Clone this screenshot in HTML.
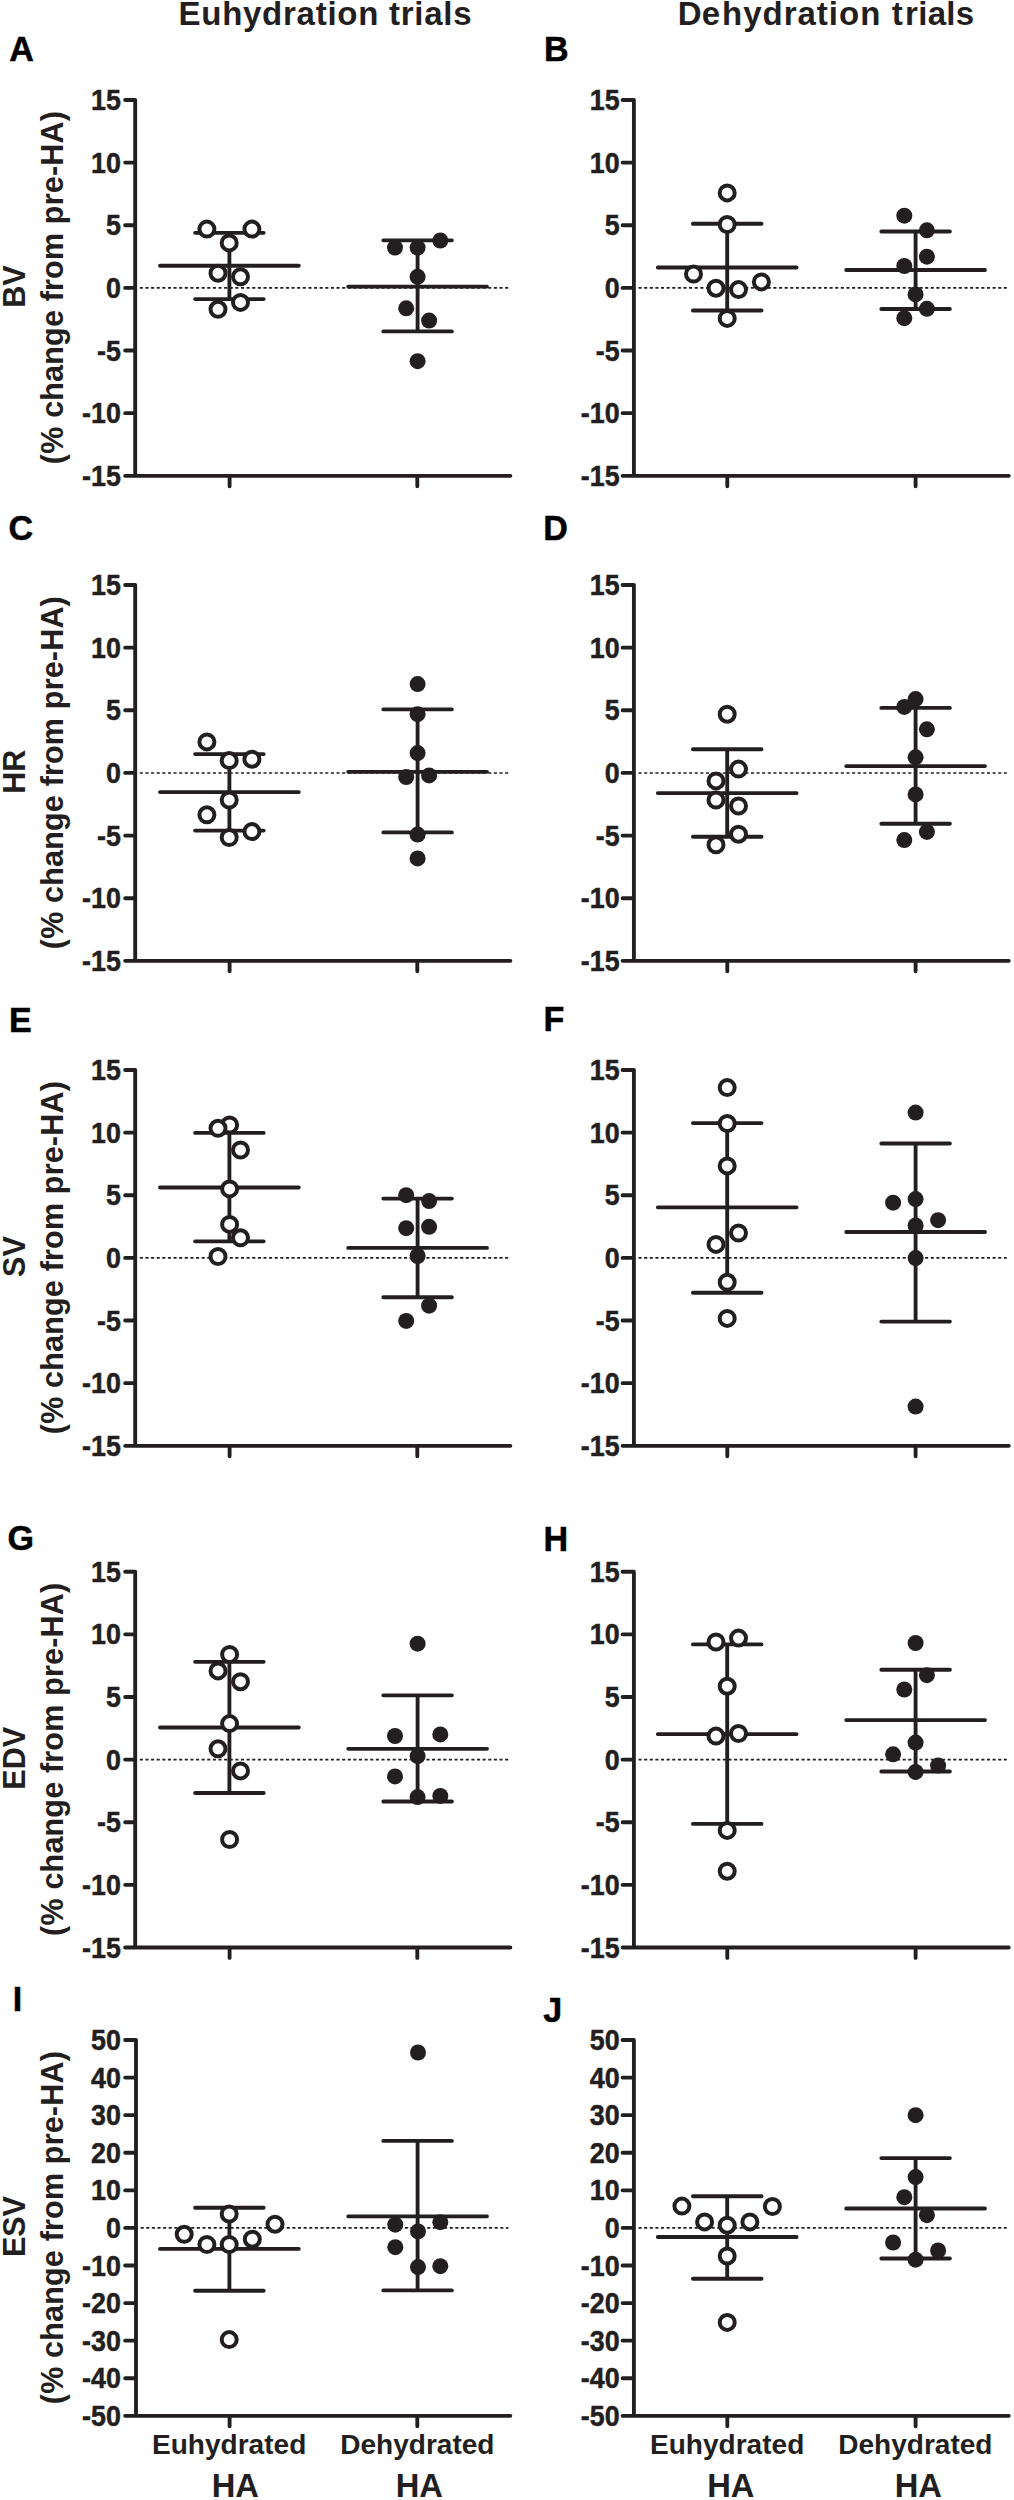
<!DOCTYPE html>
<html lang="en"><head><meta charset="utf-8"><title>Figure</title>
<style>html,body{margin:0;padding:0;background:#fff}body{width:1014px;height:2500px;overflow:hidden}
svg{display:block}text{font-family:"Liberation Sans",sans-serif;font-weight:bold;fill:#231f20;stroke:none}
.ax{stroke:#231f20;stroke-width:3.85;fill:none;stroke-linecap:round;stroke-linejoin:round}
.eb{stroke:#231f20;stroke-width:3.85;fill:none;stroke-linecap:round}
.dz{stroke:#231f20;stroke-width:1.6;fill:none;stroke-dasharray:3.1 2.52}
.o{fill:#fff;stroke:#231f20;stroke-width:4}
.f{fill:#231f20;stroke:none}
.tk{font-size:29.2px;text-anchor:end;stroke:#231f20;stroke-width:.5px}
.yl{font-size:30.5px;text-anchor:middle}
.pl{font-size:35.5px;fill:#000;stroke:#000;stroke-width:.5px}
.xl{font-size:28.2px}
.ha{font-size:32.7px}
.tt{font-size:33px}
</style></head><body>
<svg width="1014" height="2500" viewBox="0 0 1014 2500">
<rect x="0" y="0" width="1014" height="2500" fill="#fff"/>
<text class="tt" x="178.5" y="25.1" textLength="293" lengthAdjust="spacing">Euhydration trials</text>
<text class="tt" y="25.1"><tspan x="677.7" letter-spacing=".2">De</tspan><tspan x="722" letter-spacing="1">hydration</tspan><tspan x="891.8">t</tspan><tspan x="905.1" letter-spacing=".3">rials</tspan></text>
<g id="pA">
<text class="pl" transform="translate(9.3 61) scale(0.96 1)">A</text>
<path class="ax" d="M135.2 99.95 V475.8 H510.4 M125.15 99.95 H135.2 M125.15 162.59 H135.2 M125.15 225.23 H135.2 M125.15 287.88 H135.2 M125.15 350.52 H135.2 M125.15 413.16 H135.2 M125.15 475.8 H135.2 M229.6 475.8 V486.2 M417.3 475.8 V486.2"/>
<text class="tk" transform="translate(120.9 110) scale(0.92 1)">15</text>
<text class="tk" transform="translate(120.9 172.64) scale(0.92 1)">10</text>
<text class="tk" transform="translate(120.9 235.28) scale(0.92 1)">5</text>
<text class="tk" transform="translate(120.9 297.93) scale(0.92 1)">0</text>
<text class="tk" transform="translate(120.9 360.57) scale(0.92 1)">-5</text>
<text class="tk" transform="translate(120.9 423.21) scale(0.92 1)">-10</text>
<text class="tk" transform="translate(120.9 485.85) scale(0.92 1)">-15</text>
<path class="dz" d="M139.8 287.88 H508.4"/>
<path class="eb" d="M160 265.7 H298.8 M195.1 232.8 H263.7 M195.1 299.1 H263.7 M229.4 232.8 V299.1 M348.2 286.6 H487 M383.3 240.3 H451.9 M383.3 331.4 H451.9 M417.6 240.3 V331.4"/>
<g class="o"><circle cx="206.9" cy="229.1" r="7.5"/><circle cx="251.9" cy="229.1" r="7.5"/><circle cx="229.2" cy="242.9" r="7.5"/><circle cx="218" cy="273.2" r="7.5"/><circle cx="240.5" cy="276.8" r="7.5"/><circle cx="240.5" cy="302.4" r="7.5"/><circle cx="218" cy="309.3" r="7.5"/></g>
<g class="f"><circle cx="395" cy="247.6" r="8"/><circle cx="417.6" cy="247.6" r="8"/><circle cx="440.3" cy="240.5" r="8"/><circle cx="417.6" cy="276.8" r="8"/><circle cx="406.2" cy="308.3" r="8"/><circle cx="429.1" cy="320.6" r="8"/><circle cx="417.6" cy="361.2" r="8"/></g>
</g>
<g id="pB">
<text class="pl" transform="translate(544.11 61.4) scale(0.96 1)">B</text>
<path class="ax" d="M633.9 99.95 V475.8 H1008.8 M622.55 99.95 H633.9 M622.55 162.59 H633.9 M622.55 225.23 H633.9 M622.55 287.88 H633.9 M622.55 350.52 H633.9 M622.55 413.16 H633.9 M622.55 475.8 H633.9 M727.3 475.8 V486.2 M915.6 475.8 V486.2"/>
<text class="tk" transform="translate(619.6 110) scale(0.92 1)">15</text>
<text class="tk" transform="translate(619.6 172.64) scale(0.92 1)">10</text>
<text class="tk" transform="translate(619.6 235.28) scale(0.92 1)">5</text>
<text class="tk" transform="translate(619.6 297.93) scale(0.92 1)">0</text>
<text class="tk" transform="translate(619.6 360.57) scale(0.92 1)">-5</text>
<text class="tk" transform="translate(619.6 423.21) scale(0.92 1)">-10</text>
<text class="tk" transform="translate(619.6 485.85) scale(0.92 1)">-15</text>
<path class="dz" d="M638.5 287.88 H1006.8"/>
<path class="eb" d="M657.8 267.5 H796.6 M692.9 223.7 H761.5 M692.9 310.5 H761.5 M727.2 223.7 V310.5 M846.2 270 H985 M881.3 231.5 H949.9 M881.3 309 H949.9 M915.6 231.5 V309"/>
<g class="o"><circle cx="727.2" cy="192.9" r="7.5"/><circle cx="727.2" cy="224.5" r="7.5"/><circle cx="693.5" cy="274" r="7.5"/><circle cx="716" cy="288.2" r="7.5"/><circle cx="738.5" cy="289.6" r="7.5"/><circle cx="761.4" cy="281.9" r="7.5"/><circle cx="727.2" cy="318.4" r="7.5"/></g>
<g class="f"><circle cx="904.3" cy="215.7" r="8"/><circle cx="926.9" cy="230.3" r="8"/><circle cx="926.9" cy="256.7" r="8"/><circle cx="904.3" cy="266" r="8"/><circle cx="915.6" cy="294.4" r="8"/><circle cx="926.9" cy="308.8" r="8"/><circle cx="904.3" cy="318.2" r="8"/></g>
</g>
<g id="pC">
<text class="pl" transform="translate(8.4 539.7) scale(0.96 1)">C</text>
<path class="ax" d="M135.2 585 V960.85 H510.4 M125.15 585 H135.2 M125.15 647.64 H135.2 M125.15 710.28 H135.2 M125.15 772.93 H135.2 M125.15 835.57 H135.2 M125.15 898.21 H135.2 M125.15 960.85 H135.2 M229.6 960.85 V971.25 M417.3 960.85 V971.25"/>
<text class="tk" transform="translate(120.9 595.05) scale(0.92 1)">15</text>
<text class="tk" transform="translate(120.9 657.69) scale(0.92 1)">10</text>
<text class="tk" transform="translate(120.9 720.33) scale(0.92 1)">5</text>
<text class="tk" transform="translate(120.9 782.98) scale(0.92 1)">0</text>
<text class="tk" transform="translate(120.9 845.62) scale(0.92 1)">-5</text>
<text class="tk" transform="translate(120.9 908.26) scale(0.92 1)">-10</text>
<text class="tk" transform="translate(120.9 970.9) scale(0.92 1)">-15</text>
<path class="dz" d="M139.8 772.93 H508.4"/>
<path class="eb" d="M160 792.1 H298.8 M195.1 754.1 H263.7 M195.1 830.6 H263.7 M229.4 754.1 V830.6 M348.2 771.8 H487 M383.3 709.3 H451.9 M383.3 832.4 H451.9 M417.6 709.3 V832.4"/>
<g class="o"><circle cx="206.9" cy="741.9" r="7.5"/><circle cx="229.2" cy="760.6" r="7.5"/><circle cx="251.9" cy="759.2" r="7.5"/><circle cx="229.2" cy="800" r="7.5"/><circle cx="206.9" cy="814.8" r="7.5"/><circle cx="251.9" cy="831.6" r="7.5"/><circle cx="229.2" cy="837.5" r="7.5"/></g>
<g class="f"><circle cx="417.6" cy="684.1" r="8"/><circle cx="417.6" cy="714.2" r="8"/><circle cx="417.6" cy="753.1" r="8"/><circle cx="406.2" cy="777" r="8"/><circle cx="429.1" cy="775.4" r="8"/><circle cx="417.6" cy="834.6" r="8"/><circle cx="417.6" cy="858.4" r="8"/></g>
</g>
<g id="pD">
<text class="pl" transform="translate(543.14 539.7) scale(0.96 1)">D</text>
<path class="ax" d="M633.9 585 V960.85 H1008.8 M622.55 585 H633.9 M622.55 647.64 H633.9 M622.55 710.28 H633.9 M622.55 772.93 H633.9 M622.55 835.57 H633.9 M622.55 898.21 H633.9 M622.55 960.85 H633.9 M727.3 960.85 V971.25 M915.6 960.85 V971.25"/>
<text class="tk" transform="translate(619.6 595.05) scale(0.92 1)">15</text>
<text class="tk" transform="translate(619.6 657.69) scale(0.92 1)">10</text>
<text class="tk" transform="translate(619.6 720.33) scale(0.92 1)">5</text>
<text class="tk" transform="translate(619.6 782.98) scale(0.92 1)">0</text>
<text class="tk" transform="translate(619.6 845.62) scale(0.92 1)">-5</text>
<text class="tk" transform="translate(619.6 908.26) scale(0.92 1)">-10</text>
<text class="tk" transform="translate(619.6 970.9) scale(0.92 1)">-15</text>
<path class="dz" d="M638.5 772.93 H1006.8"/>
<path class="eb" d="M657.8 793.1 H796.6 M692.9 749.2 H761.5 M692.9 836.7 H761.5 M727.2 749.2 V836.7 M846.2 766.1 H985 M881.3 707.9 H949.9 M881.3 823.7 H949.9 M915.6 707.9 V823.7"/>
<g class="o"><circle cx="727.2" cy="714.2" r="7.5"/><circle cx="738.5" cy="769.1" r="7.5"/><circle cx="716" cy="780.9" r="7.5"/><circle cx="716" cy="800" r="7.5"/><circle cx="738.5" cy="806" r="7.5"/><circle cx="738.5" cy="834.2" r="7.5"/><circle cx="716" cy="844.8" r="7.5"/></g>
<g class="f"><circle cx="904.3" cy="706.9" r="8"/><circle cx="915.6" cy="699.1" r="8"/><circle cx="926.9" cy="729.3" r="8"/><circle cx="915.6" cy="757.3" r="8"/><circle cx="915.6" cy="794.4" r="8"/><circle cx="926.9" cy="831.9" r="8"/><circle cx="904.3" cy="840.1" r="8"/></g>
</g>
<g id="pE">
<text class="pl" transform="translate(9.11 1031.5) scale(0.96 1)">E</text>
<path class="ax" d="M135.2 1070 V1445.8 H510.4 M125.15 1070 H135.2 M125.15 1132.63 H135.2 M125.15 1195.27 H135.2 M125.15 1257.9 H135.2 M125.15 1320.53 H135.2 M125.15 1383.17 H135.2 M125.15 1445.8 H135.2 M229.6 1445.8 V1456.2 M417.3 1445.8 V1456.2"/>
<text class="tk" transform="translate(120.9 1080.05) scale(0.92 1)">15</text>
<text class="tk" transform="translate(120.9 1142.68) scale(0.92 1)">10</text>
<text class="tk" transform="translate(120.9 1205.32) scale(0.92 1)">5</text>
<text class="tk" transform="translate(120.9 1267.95) scale(0.92 1)">0</text>
<text class="tk" transform="translate(120.9 1330.58) scale(0.92 1)">-5</text>
<text class="tk" transform="translate(120.9 1393.22) scale(0.92 1)">-10</text>
<text class="tk" transform="translate(120.9 1455.85) scale(0.92 1)">-15</text>
<path class="dz" d="M139.8 1257.9 H508.4"/>
<path class="eb" d="M160 1187.5 H298.8 M195.1 1132.9 H263.7 M195.1 1241.3 H263.7 M229.4 1132.9 V1241.3 M348.2 1247.9 H487 M383.3 1198.6 H451.9 M383.3 1297.2 H451.9 M417.6 1198.6 V1297.2"/>
<g class="o"><circle cx="229.6" cy="1125" r="7.5"/><circle cx="218" cy="1128.3" r="7.5"/><circle cx="240.5" cy="1150" r="7.5"/><circle cx="229.6" cy="1188.9" r="7.5"/><circle cx="229.6" cy="1224.4" r="7.5"/><circle cx="240.5" cy="1237.8" r="7.5"/><circle cx="218" cy="1256.5" r="7.5"/></g>
<g class="f"><circle cx="406.2" cy="1195.2" r="8"/><circle cx="429.1" cy="1201.1" r="8"/><circle cx="406.2" cy="1228.2" r="8"/><circle cx="429.1" cy="1226.8" r="8"/><circle cx="417.6" cy="1256" r="8"/><circle cx="429.1" cy="1305.7" r="8"/><circle cx="406.2" cy="1320.9" r="8"/></g>
</g>
<g id="pF">
<text class="pl" transform="translate(543.44 1031.4) scale(0.96 1)">F</text>
<path class="ax" d="M633.9 1070 V1445.8 H1008.8 M622.55 1070 H633.9 M622.55 1132.63 H633.9 M622.55 1195.27 H633.9 M622.55 1257.9 H633.9 M622.55 1320.53 H633.9 M622.55 1383.17 H633.9 M622.55 1445.8 H633.9 M727.3 1445.8 V1456.2 M915.6 1445.8 V1456.2"/>
<text class="tk" transform="translate(619.6 1080.05) scale(0.92 1)">15</text>
<text class="tk" transform="translate(619.6 1142.68) scale(0.92 1)">10</text>
<text class="tk" transform="translate(619.6 1205.32) scale(0.92 1)">5</text>
<text class="tk" transform="translate(619.6 1267.95) scale(0.92 1)">0</text>
<text class="tk" transform="translate(619.6 1330.58) scale(0.92 1)">-5</text>
<text class="tk" transform="translate(619.6 1393.22) scale(0.92 1)">-10</text>
<text class="tk" transform="translate(619.6 1455.85) scale(0.92 1)">-15</text>
<path class="dz" d="M638.5 1257.9 H1006.8"/>
<path class="eb" d="M657.8 1207.3 H796.6 M692.9 1123.1 H761.5 M692.9 1292.7 H761.5 M727.2 1123.1 V1292.7 M846.2 1232 H985 M881.3 1143.5 H949.9 M881.3 1321.6 H949.9 M915.6 1143.5 V1321.6"/>
<g class="o"><circle cx="727.2" cy="1087.6" r="7.5"/><circle cx="727.2" cy="1123.5" r="7.5"/><circle cx="727.2" cy="1165.9" r="7.5"/><circle cx="738.5" cy="1233" r="7.5"/><circle cx="716" cy="1244.4" r="7.5"/><circle cx="727.2" cy="1282.3" r="7.5"/><circle cx="727.2" cy="1318.4" r="7.5"/></g>
<g class="f"><circle cx="915.6" cy="1112.6" r="8"/><circle cx="893.1" cy="1202.7" r="8"/><circle cx="915.6" cy="1199.1" r="8"/><circle cx="938.1" cy="1220.2" r="8"/><circle cx="915.6" cy="1225.5" r="8"/><circle cx="915.6" cy="1258.1" r="8"/><circle cx="915.6" cy="1406.6" r="8"/></g>
</g>
<g id="pG">
<text class="pl" transform="translate(7.4 1550) scale(0.96 1)">G</text>
<path class="ax" d="M135.2 1571.7 V1947.5 H510.4 M125.15 1571.7 H135.2 M125.15 1634.33 H135.2 M125.15 1696.97 H135.2 M125.15 1759.6 H135.2 M125.15 1822.23 H135.2 M125.15 1884.87 H135.2 M125.15 1947.5 H135.2 M229.6 1947.5 V1957.9 M417.3 1947.5 V1957.9"/>
<text class="tk" transform="translate(120.9 1581.75) scale(0.92 1)">15</text>
<text class="tk" transform="translate(120.9 1644.38) scale(0.92 1)">10</text>
<text class="tk" transform="translate(120.9 1707.02) scale(0.92 1)">5</text>
<text class="tk" transform="translate(120.9 1769.65) scale(0.92 1)">0</text>
<text class="tk" transform="translate(120.9 1832.28) scale(0.92 1)">-5</text>
<text class="tk" transform="translate(120.9 1894.92) scale(0.92 1)">-10</text>
<text class="tk" transform="translate(120.9 1957.55) scale(0.92 1)">-15</text>
<path class="dz" d="M139.8 1759.6 H508.4"/>
<path class="eb" d="M160 1727.5 H298.8 M195.1 1661.8 H263.7 M195.1 1793 H263.7 M229.4 1661.8 V1793 M348.2 1748.8 H487 M383.3 1695.3 H451.9 M383.3 1801.5 H451.9 M417.6 1695.3 V1801.5"/>
<g class="o"><circle cx="229.6" cy="1654.5" r="7.5"/><circle cx="218" cy="1670.9" r="7.5"/><circle cx="240.5" cy="1681.7" r="7.5"/><circle cx="229.6" cy="1723.6" r="7.5"/><circle cx="218" cy="1748.8" r="7.5"/><circle cx="240.5" cy="1770.9" r="7.5"/><circle cx="229.6" cy="1839.5" r="7.5"/></g>
<g class="f"><circle cx="417.6" cy="1643.7" r="8"/><circle cx="395" cy="1736" r="8"/><circle cx="440.3" cy="1734.4" r="8"/><circle cx="417.6" cy="1756.1" r="8"/><circle cx="395" cy="1776.4" r="8"/><circle cx="417.6" cy="1797.1" r="8"/><circle cx="440.3" cy="1795.9" r="8"/></g>
</g>
<g id="pH">
<text class="pl" transform="translate(543.44 1550.8) scale(0.96 1)">H</text>
<path class="ax" d="M633.9 1571.7 V1947.5 H1008.8 M622.55 1571.7 H633.9 M622.55 1634.33 H633.9 M622.55 1696.97 H633.9 M622.55 1759.6 H633.9 M622.55 1822.23 H633.9 M622.55 1884.87 H633.9 M622.55 1947.5 H633.9 M727.3 1947.5 V1957.9 M915.6 1947.5 V1957.9"/>
<text class="tk" transform="translate(619.6 1581.75) scale(0.92 1)">15</text>
<text class="tk" transform="translate(619.6 1644.38) scale(0.92 1)">10</text>
<text class="tk" transform="translate(619.6 1707.02) scale(0.92 1)">5</text>
<text class="tk" transform="translate(619.6 1769.65) scale(0.92 1)">0</text>
<text class="tk" transform="translate(619.6 1832.28) scale(0.92 1)">-5</text>
<text class="tk" transform="translate(619.6 1894.92) scale(0.92 1)">-10</text>
<text class="tk" transform="translate(619.6 1957.55) scale(0.92 1)">-15</text>
<path class="dz" d="M638.5 1759.6 H1006.8"/>
<path class="eb" d="M657.8 1734.1 H796.6 M692.9 1644.4 H761.5 M692.9 1823.9 H761.5 M727.2 1644.4 V1823.9 M846.2 1720.1 H985 M881.3 1669.7 H949.9 M881.3 1771.5 H949.9 M915.6 1669.7 V1771.5"/>
<g class="o"><circle cx="738.5" cy="1638.1" r="7.5"/><circle cx="716" cy="1642" r="7.5"/><circle cx="727.2" cy="1686.2" r="7.5"/><circle cx="716" cy="1736.1" r="7.5"/><circle cx="738.5" cy="1733.5" r="7.5"/><circle cx="727.2" cy="1830.4" r="7.5"/><circle cx="727.2" cy="1871.2" r="7.5"/></g>
<g class="f"><circle cx="915.6" cy="1643" r="8"/><circle cx="926.9" cy="1675.2" r="8"/><circle cx="904.3" cy="1689.5" r="8"/><circle cx="915.6" cy="1742.6" r="8"/><circle cx="893.1" cy="1754.3" r="8"/><circle cx="938.1" cy="1765.6" r="8"/><circle cx="915.6" cy="1771.9" r="8"/></g>
</g>
<g id="pI">
<text class="pl" transform="translate(12.68 2011.2) scale(0.96 1)">I</text>
<path class="ax" d="M136 2040 V2415.8 H510.4 M125.15 2040 H136 M125.15 2077.58 H136 M125.15 2115.16 H136 M125.15 2152.74 H136 M125.15 2190.32 H136 M125.15 2227.9 H136 M125.15 2265.48 H136 M125.15 2303.06 H136 M125.15 2340.64 H136 M125.15 2378.22 H136 M125.15 2415.8 H136 M229.6 2415.8 V2426.2 M417.3 2415.8 V2426.2"/>
<text class="tk" transform="translate(120.9 2050.05) scale(0.92 1)">50</text>
<text class="tk" transform="translate(120.9 2087.63) scale(0.92 1)">40</text>
<text class="tk" transform="translate(120.9 2125.21) scale(0.92 1)">30</text>
<text class="tk" transform="translate(120.9 2162.79) scale(0.92 1)">20</text>
<text class="tk" transform="translate(120.9 2200.37) scale(0.92 1)">10</text>
<text class="tk" transform="translate(120.9 2237.95) scale(0.92 1)">0</text>
<text class="tk" transform="translate(120.9 2275.53) scale(0.92 1)">-10</text>
<text class="tk" transform="translate(120.9 2313.11) scale(0.92 1)">-20</text>
<text class="tk" transform="translate(120.9 2350.69) scale(0.92 1)">-30</text>
<text class="tk" transform="translate(120.9 2388.27) scale(0.92 1)">-40</text>
<text class="tk" transform="translate(120.9 2425.85) scale(0.92 1)">-50</text>
<path class="dz" d="M140.6 2227.9 H508.4"/>
<path class="eb" d="M160 2248.9 H298.8 M195.1 2207.7 H263.7 M195.1 2290.7 H263.7 M229.4 2207.7 V2290.7 M348.2 2216.3 H487 M383.3 2140.9 H451.9 M383.3 2290.4 H451.9 M417.6 2140.9 V2290.4"/>
<g class="o"><circle cx="229.2" cy="2214" r="7.5"/><circle cx="275" cy="2224.2" r="7.5"/><circle cx="184.2" cy="2234.3" r="7.5"/><circle cx="252.3" cy="2239.2" r="7.5"/><circle cx="206.9" cy="2244.5" r="7.5"/><circle cx="229.2" cy="2244.5" r="7.5"/><circle cx="229.2" cy="2339.6" r="7.5"/></g>
<g class="f"><circle cx="418" cy="2052.5" r="8"/><circle cx="395.3" cy="2224.7" r="8"/><circle cx="440.3" cy="2222.2" r="8"/><circle cx="418" cy="2231.4" r="8"/><circle cx="395.3" cy="2247.2" r="8"/><circle cx="418" cy="2267.1" r="8"/><circle cx="440.3" cy="2266.2" r="8"/></g>
</g>
<g id="pJ">
<text class="pl" transform="translate(543.22 2022.3) scale(0.96 1)">J</text>
<path class="ax" d="M633.9 2040 V2415.8 H1008.8 M622.55 2040 H633.9 M622.55 2077.58 H633.9 M622.55 2115.16 H633.9 M622.55 2152.74 H633.9 M622.55 2190.32 H633.9 M622.55 2227.9 H633.9 M622.55 2265.48 H633.9 M622.55 2303.06 H633.9 M622.55 2340.64 H633.9 M622.55 2378.22 H633.9 M622.55 2415.8 H633.9 M727.3 2415.8 V2426.2 M915.6 2415.8 V2426.2"/>
<text class="tk" transform="translate(619.6 2050.05) scale(0.92 1)">50</text>
<text class="tk" transform="translate(619.6 2087.63) scale(0.92 1)">40</text>
<text class="tk" transform="translate(619.6 2125.21) scale(0.92 1)">30</text>
<text class="tk" transform="translate(619.6 2162.79) scale(0.92 1)">20</text>
<text class="tk" transform="translate(619.6 2200.37) scale(0.92 1)">10</text>
<text class="tk" transform="translate(619.6 2237.95) scale(0.92 1)">0</text>
<text class="tk" transform="translate(619.6 2275.53) scale(0.92 1)">-10</text>
<text class="tk" transform="translate(619.6 2313.11) scale(0.92 1)">-20</text>
<text class="tk" transform="translate(619.6 2350.69) scale(0.92 1)">-30</text>
<text class="tk" transform="translate(619.6 2388.27) scale(0.92 1)">-40</text>
<text class="tk" transform="translate(619.6 2425.85) scale(0.92 1)">-50</text>
<path class="dz" d="M638.5 2227.9 H1006.8"/>
<path class="eb" d="M657.8 2237 H796.6 M692.9 2196.2 H761.5 M692.9 2278.7 H761.5 M727.2 2196.2 V2278.7 M846.2 2208.5 H985 M881.3 2158.1 H949.9 M881.3 2258.5 H949.9 M915.6 2158.1 V2258.5"/>
<g class="o"><circle cx="681.9" cy="2206.1" r="7.5"/><circle cx="772.4" cy="2206.5" r="7.5"/><circle cx="704.6" cy="2221.9" r="7.5"/><circle cx="749.9" cy="2221.9" r="7.5"/><circle cx="727.2" cy="2225.2" r="7.5"/><circle cx="727.2" cy="2256" r="7.5"/><circle cx="727.2" cy="2322.4" r="7.5"/></g>
<g class="f"><circle cx="915.6" cy="2115.2" r="8"/><circle cx="915.6" cy="2177.1" r="8"/><circle cx="904.3" cy="2197.2" r="8"/><circle cx="926.9" cy="2215.2" r="8"/><circle cx="893.1" cy="2242.5" r="8"/><circle cx="938.1" cy="2250.5" r="8"/><circle cx="915.6" cy="2259.7" r="8"/></g>
</g>
<text class="yl" transform="translate(24.8 286.57) rotate(-90)">BV</text>
<text class="yl" transform="translate(62.7 287.68) rotate(-90)" textLength="353" lengthAdjust="spacing">(% change from pre-HA)</text>
<text class="yl" transform="translate(24.8 771.62) rotate(-90)">HR</text>
<text class="yl" transform="translate(62.7 772.72) rotate(-90)" textLength="353" lengthAdjust="spacing">(% change from pre-HA)</text>
<text class="yl" transform="translate(24.8 1256.6) rotate(-90)">SV</text>
<text class="yl" transform="translate(62.7 1257.7) rotate(-90)" textLength="353" lengthAdjust="spacing">(% change from pre-HA)</text>
<text class="yl" transform="translate(24.8 1758.3) rotate(-90)">EDV</text>
<text class="yl" transform="translate(62.7 1759.4) rotate(-90)" textLength="353" lengthAdjust="spacing">(% change from pre-HA)</text>
<text class="yl" transform="translate(24.8 2226.6) rotate(-90)">ESV</text>
<text class="yl" transform="translate(62.7 2227.7) rotate(-90)" textLength="353" lengthAdjust="spacing">(% change from pre-HA)</text>
<text class="xl" x="152" y="2453.9" textLength="154.3" lengthAdjust="spacingAndGlyphs">Euhydrated</text>
<text class="xl" x="340.2" y="2453.9" textLength="154.3" lengthAdjust="spacingAndGlyphs">Dehydrated</text>
<text class="xl" x="650" y="2453.9" textLength="154.3" lengthAdjust="spacingAndGlyphs">Euhydrated</text>
<text class="xl" x="838.2" y="2453.9" textLength="154.3" lengthAdjust="spacingAndGlyphs">Dehydrated</text>
<text class="ha" x="211.7" y="2496.5">HA</text>
<text class="ha" x="395.7" y="2496.5">HA</text>
<text class="ha" x="707.2" y="2496.5">HA</text>
<text class="ha" x="894.7" y="2496.5">HA</text>
</svg></body></html>
